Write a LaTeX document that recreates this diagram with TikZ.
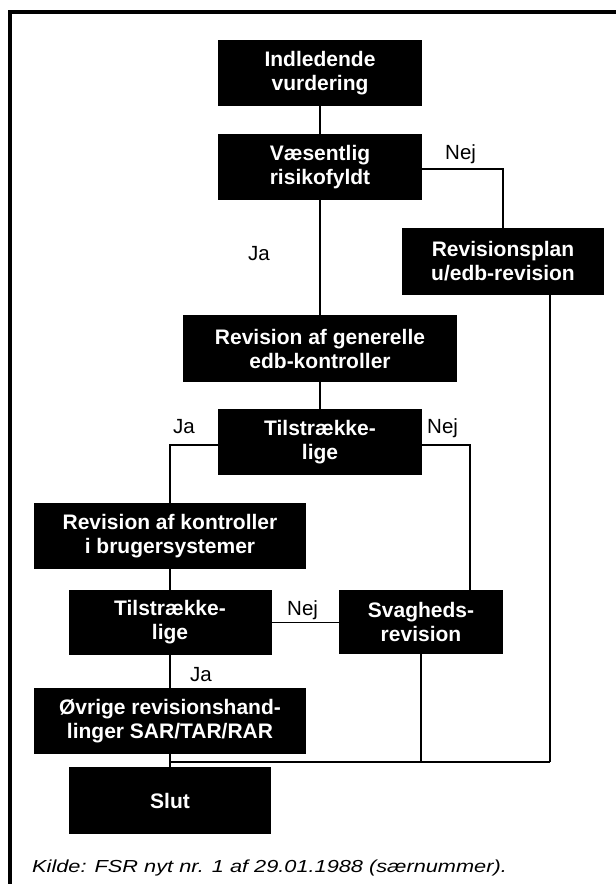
\documentclass[tikz,border=0pt]{standalone}
\usepackage{fontspec}
\setmainfont{Liberation Sans}
\usepackage{graphicx}
\begin{document}
\begin{tikzpicture}[x=1pt,y=-1pt,
  blackbox/.style={fill=black, draw=none, text=white, font=\bfseries\fontsize{21}{24}\selectfont, align=center, inner sep=0pt},
  lbl/.style={anchor=base west, inner sep=0pt, font=\fontsize{20.5}{24}\selectfont},
  conn/.style={line width=1.8pt}]
\useasboundingbox (0,0) rectangle (616,884);
\fill[white] (0,0) rectangle (616,884);
\draw[line width=4pt] (9.5,900) -- (9.5,12) -- (640,12);

\node[blackbox, minimum width=204pt, minimum height=66pt] (ind) at (320,73) {Indledende\\vurdering};
\node[blackbox, minimum width=204pt, minimum height=66pt] (vaes) at (320,167) {Væsentlig\\risikofyldt};
\node[blackbox, minimum width=202pt, minimum height=67pt] (rp) at (503,261.5) {Revisionsplan\\u/edb-revision};
\node[blackbox, minimum width=274pt, minimum height=67pt] (gen) at (320,348.5) {Revision af generelle\\edb-kontroller};
\node[blackbox, minimum width=204pt, minimum height=66pt] (t1) at (320,442) {Tilstrække-\\lige};
\node[blackbox, minimum width=272pt, minimum height=66pt] (rak) at (170,536) {Revision af kontroller\\i brugersystemer};
\node[blackbox, minimum width=203pt, minimum height=65pt] (t2) at (170,622.5) {Tilstrække-\\lige};
\node[blackbox, minimum width=164pt, minimum height=64pt] (sv) at (421,622) {Svagheds-\\revision};
\node[blackbox, minimum width=272pt, minimum height=66pt] (ovr) at (170,721) {Øvrige revisionshand-\\linger SAR/TAR/RAR};
\node[blackbox, minimum width=202pt, minimum height=67pt] (slut) at (170,800.5) {Slut};

\coordinate (j3) at (550,762);

\draw[conn] (ind) -- (vaes);
\draw[conn] (vaes) -- (gen);
\draw[conn] (gen) -- (t1);
\draw[conn] ([yshift=-2pt]vaes.east) -| (rp.north);
\draw[conn] (rp.south -| j3) -- (j3);
\draw[conn] ([yshift=-3pt]t1.west) -| (rak.north);
\draw[conn] ([yshift=-3pt]t1.east) -| ([xshift=49pt]sv.north);
\draw[conn] (rak) -- (t2);
\draw[conn] (t2.east) -- (t2.east -| sv.west);
\draw[conn] (t2) -- (ovr);
\draw[conn] (sv.south) -- (sv.south |- j3);
\draw[conn] (ovr) -- (slut);
\draw[conn, line width=2.4pt] (ovr.south |- j3) -- (j3);

\node[lbl] (nej1) at (445,159) {Nej};
\node[lbl] (ja1) at (248,260) {Ja};
\node[lbl] (ja2) at (173,433) {Ja};
\node[lbl] (nej2) at (427,433) {Nej};
\node[lbl] (nej3) at (287,615) {Nej};
\node[lbl] (ja3) at (190,681) {Ja};

\node[anchor=base west, inner sep=0pt] (kilde) at (32,872) {\scalebox{1.25}[1]{\fontsize{17.4}{20}\selectfont\itshape Kilde: FSR nyt nr. 1 af 29.01.1988 (særnummer).}};
\end{tikzpicture}
\end{document}
